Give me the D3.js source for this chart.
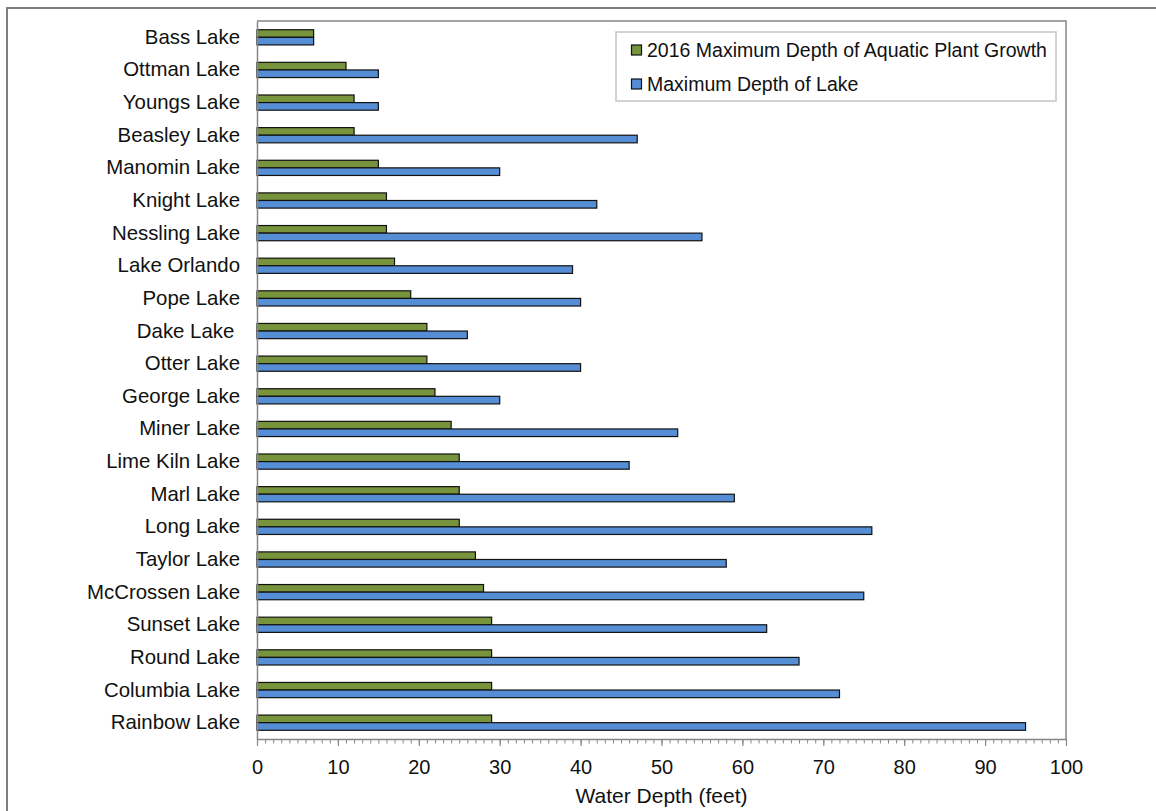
<!DOCTYPE html>
<html>
<head>
<meta charset="utf-8">
<script src="https://cdn.jsdelivr.net/npm/d3@7/dist/d3.min.js"></script>
<style>
  html, body { margin: 0; padding: 0; background: #fff; }
  svg { display: block; font-family: "Liberation Sans", Arial, sans-serif; }
  text { white-space: pre; }
</style>
</head>
<body>
<svg id="chart" width="1156" height="811"></svg>
<script>
// Lakes, top to bottom
const lakes = [
  "Bass Lake", "Ottman Lake", "Youngs Lake", "Beasley Lake", "Manomin Lake",
  "Knight Lake", "Nessling Lake", "Lake Orlando", "Pope Lake", "Dake Lake ",
  "Otter Lake", "George Lake", "Miner Lake", "Lime Kiln Lake", "Marl Lake",
  "Long Lake", "Taylor Lake", "McCrossen Lake", "Sunset Lake", "Round Lake",
  "Columbia Lake", "Rainbow Lake"
];

// 2016 maximum depth of aquatic plant growth (feet)
const plantDepth = [7, 11, 12, 12, 15, 16, 16, 17, 19, 21, 21, 22, 24, 25, 25, 25, 27, 28, 29, 29, 29, 29];

// Maximum depth of lake (feet)
const lakeDepth = [7, 15, 15, 47, 30, 42, 55, 39, 40, 26, 40, 30, 52, 46, 59, 76, 58, 75, 63, 67, 72, 95];

const seriesNames = ["2016 Maximum Depth of Aquatic Plant Growth", "Maximum Depth of Lake"];
const seriesColors = ["#77933C", "#558ED5"];
const xTicks = [0, 10, 20, 30, 40, 50, 60, 70, 80, 90, 100];

const svg = d3.select("#chart");

// outer chart frame
svg.append("rect")
  .attr("x", 7).attr("y", 8).attr("width", 1160).attr("height", 820)
  .attr("fill", "none").attr("stroke", "#808080").attr("stroke-width", 2);

const plot = { left: 257, top: 21, right: 1066, bottom: 739 };

const x = d3.scaleLinear().domain([0, 100]).range([plot.left, plot.right]);
const y = d3.scaleBand().domain(lakes).range([plot.top, plot.bottom]).paddingInner(0).paddingOuter(0);
const barH = 7.6;

// plot border (top and right)
svg.append("path")
  .attr("d", `M${plot.left},${plot.top}H${plot.right}V${plot.bottom}`)
  .attr("fill", "none").attr("stroke", "#868686").attr("stroke-width", 1.5);

// bars
const rows = lakes.map((name, i) => ({ name, values: [plantDepth[i], lakeDepth[i]] }));
const groups = svg.append("g").selectAll("g").data(rows).join("g");
groups.each(function (d) {
  const cy = y(d.name) + y.bandwidth() / 2;
  d3.select(this).selectAll("rect").data(d.values).join("rect")
    .attr("x", x(0))
    .attr("y", (v, k) => k === 0 ? cy - barH : cy)
    .attr("width", v => x(v) - x(0))
    .attr("height", barH)
    .attr("fill", (v, k) => seriesColors[k])
    .attr("stroke", "#111")
    .attr("stroke-width", 1.2);
});

// category axis
const yAxis = svg.append("g").attr("transform", `translate(${plot.left},0)`)
  .call(d3.axisLeft(y).tickSize(0).tickPadding(17));
yAxis.select(".domain").attr("stroke", "#868686").attr("stroke-width", 1.5);
yAxis.selectAll("text").attr("font-size", 20.4).attr("fill", "#111")
  .attr("font-family", "Liberation Sans, Arial, sans-serif");

// value axis: minor ticks every foot, major every ten
const minor = svg.append("g").attr("transform", `translate(0,${plot.bottom})`)
  .call(d3.axisBottom(x).tickValues(d3.range(0, 101, 1)).tickSize(4.5).tickFormat(""));
minor.select(".domain").remove();
minor.selectAll("line").attr("stroke", "#868686");

const xAxis = svg.append("g").attr("transform", `translate(0,${plot.bottom})`)
  .call(d3.axisBottom(x).tickValues(xTicks).tickSize(7).tickPadding(14).tickSizeOuter(0));
xAxis.select(".domain").attr("stroke", "#868686").attr("stroke-width", 1.5);
xAxis.selectAll("line").attr("stroke", "#868686").attr("stroke-width", 1.2);
xAxis.selectAll("text").attr("font-size", 20).attr("fill", "#111")
  .attr("font-family", "Liberation Sans, Arial, sans-serif");

// axis title
svg.append("text")
  .attr("x", (plot.left + plot.right) / 2).attr("y", 803)
  .attr("text-anchor", "middle").attr("font-size", 21).attr("fill", "#111")
  .text("Water Depth (feet)");

// legend
const legend = svg.append("g");
legend.append("rect")
  .attr("x", 616).attr("y", 32).attr("width", 440).attr("height", 69)
  .attr("fill", "#fff").attr("stroke", "#c4c4c4").attr("stroke-width", 1.5);
seriesNames.forEach((name, i) => {
  const cy = 50 + i * 34;
  legend.append("rect")
    .attr("x", 631.5).attr("y", cy - 5).attr("width", 10).attr("height", 10)
    .attr("fill", seriesColors[i]).attr("stroke", "#111").attr("stroke-width", 1.2);
  legend.append("text")
    .attr("x", 647).attr("y", cy).attr("dy", "0.35em")
    .attr("font-size", 19.5).attr("fill", "#111")
    .text(name);
});
</script>
</body>
</html>
